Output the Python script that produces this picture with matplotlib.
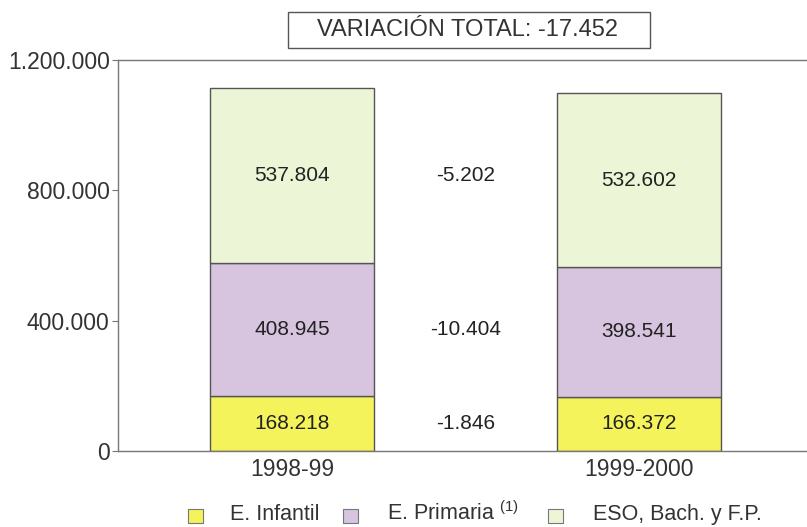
import matplotlib
matplotlib.use("Agg")
import matplotlib.pyplot as plt
from matplotlib.patches import Rectangle
from matplotlib.ticker import FuncFormatter

# === dane ===
cursos = ["1998-99", "1999-2000"]
infantil = [168218, 166372]
primaria = [408945, 398541]
secundaria = [537804, 532602]
variaciones = [-1846, -10404, -5202]
variacion_total = -17452

series_nombres = ["E. Infantil", r"E. Primaria $^{(1)}$", "ESO, Bach. y F.P."]
colores = ["#f4f35c", "#d7c4df", "#ecf6d6"]


def fmt_es(v):
    s = f"{abs(int(v)):,}".replace(",", ".")
    return ("-" if v < 0 else "") + s


plt.rcParams["font.family"] = ["Liberation Sans", "DejaVu Sans"]
plt.rcParams["mathtext.fontset"] = "custom"
plt.rcParams["mathtext.rm"] = "Liberation Sans"

W, H = 807, 527
fig = plt.figure(figsize=(W / 100, H / 100), dpi=100)
ax = fig.add_axes([118 / W, 76 / H, 689 / W, 391 / H])

# === słupki skumulowane ===
x = list(range(len(cursos)))
ancho = 0.47
capas = [infantil, primaria, secundaria]
base = [0] * len(cursos)
for valores, color in zip(capas, colores):
    ax.bar(x, valores, width=ancho, bottom=base, color=color,
           edgecolor="#555555", linewidth=1.0)
    for xi, b, v in zip(x, base, valores):
        ax.text(xi, b + v / 2, fmt_es(v), ha="center", va="center",
                fontsize=15, color="#222222")
    base = [b + v for b, v in zip(base, valores)]

# variaciones między kursami (na wysokości środka segmentu 1. kursu)
nivel = 0
for valores, var in zip(capas, variaciones):
    ax.text(0.5, nivel + valores[0] / 2, fmt_es(var), ha="center",
            va="center", fontsize=15, color="#222222")
    nivel += valores[0]

ax.set_xlim(-0.5014, 1.484)
ax.set_ylim(0, 1200000)
ax.set_yticks([0, 400000, 800000, 1200000])
ax.yaxis.set_major_formatter(FuncFormatter(lambda v, p: fmt_es(v)))
ax.set_xticks(x)
ax.set_xticklabels(cursos)
ax.tick_params(axis="y", labelsize=16.5, length=4, color="#777777",
               labelcolor="#333333", pad=2)
ax.tick_params(axis="x", labelsize=16.5, length=0, labelcolor="#333333", pad=5)
for lado in ["left", "bottom", "top"]:
    ax.spines[lado].set_color("#777777")
    ax.spines[lado].set_linewidth(1.0)
ax.spines["right"].set_visible(False)

# === ramka z wariacją całkowitą ===
fig.add_artist(Rectangle((288 / W, 1 - 48 / H), 362 / W, 36 / H,
                         transform=fig.transFigure, facecolor="white",
                         edgecolor="#555555", linewidth=1.0))
fig.text(467 / W, 1 - 30 / H, f"VARIACIÓN TOTAL: {fmt_es(variacion_total)}",
         ha="center", va="center", fontsize=17, color="#333333")

# === legenda ===
kw_x = [188, 343, 548]
tekst_x = [230, 387, 593]
for kx, tx, nombre, color in zip(kw_x, tekst_x, series_nombres, colores):
    fig.add_artist(Rectangle((kx / W, 1 - 523 / H), 15 / W, 14 / H,
                             transform=fig.transFigure, facecolor=color,
                             edgecolor="#777777", linewidth=0.8))
    fig.text(tx / W, 1 - 520 / H, nombre, ha="left", va="baseline",
             fontsize=15.5, color="#333333")

fig.savefig("out.png", dpi=100)
